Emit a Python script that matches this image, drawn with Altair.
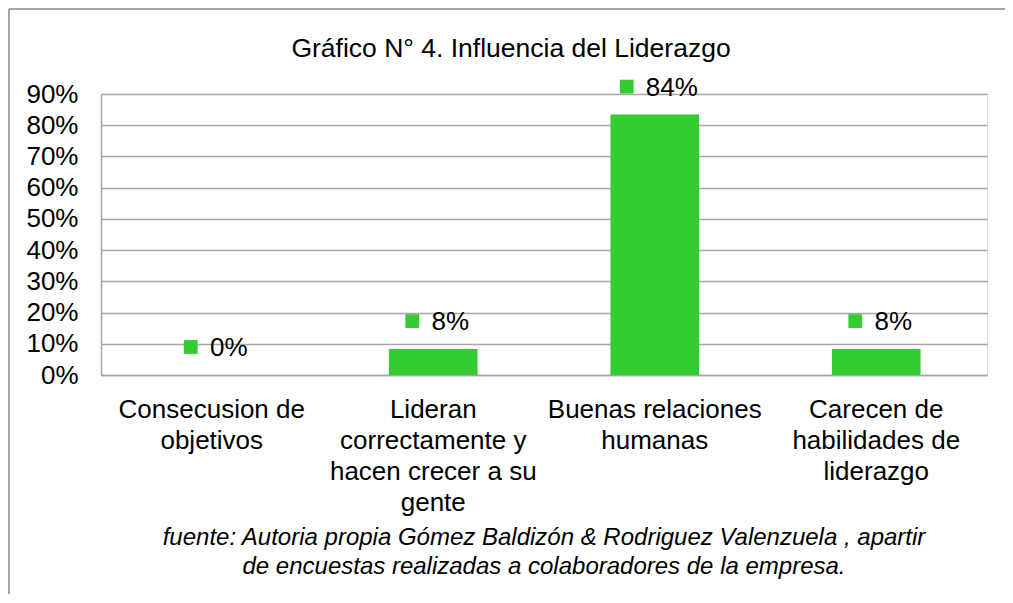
import altair as alt
import pandas as pd

# ---- data ----
categories = [
    "Consecusion de\nobjetivos",
    "Lideran\ncorrectamente y\nhacen crecer a su\ngente",
    "Buenas relaciones\nhumanas",
    "Carecen de\nhabilidades de\nliderazgo",
]
values = [0.0, 0.083, 0.834, 0.083]
value_labels = ["0%", "8%", "84%", "8%"]
y_ticks = [0.0, 0.1, 0.2, 0.3, 0.4, 0.5, 0.6, 0.7, 0.8, 0.9]
title_text = "Gráfico N° 4. Influencia del Liderazgo"
source_text = ("fuente: Autoria propia Gómez Baldizón & Rodriguez Valenzuela , apartir\n"
               "de encuestas realizadas a colaboradores de la empresa.")

df = pd.DataFrame({"cat": categories, "value": values, "label": value_labels})

FONT = "Liberation Sans"
GREEN = "#33CC33"
GRID = "#A6A6A6"

x = alt.X(
    "cat:N", sort=categories, title=None,
    scale=alt.Scale(paddingInner=0.6, paddingOuter=0.3),
    axis=alt.Axis(labelAngle=0, labelExpr="split(datum.label, '\\n')",
                  labelFont=FONT, labelFontSize=26, labelColor="black",
                  labelLineHeight=31, labelPadding=21, ticks=False, tickSize=0,
                  domainColor=GRID, domainWidth=1.5, labelLimit=0, grid=False,
                  labelBaseline="top"),
)
y = alt.Y(
    "value:Q", title=None,
    scale=alt.Scale(domain=[0, 0.9], nice=False),
    axis=alt.Axis(values=y_ticks, format=".0%", labelFont=FONT, labelFontSize=26,
                  labelColor="black", labelPadding=23, ticks=False, tickSize=0,
                  domainColor=GRID, domainWidth=1.5, gridColor=GRID, gridWidth=1.5),
)

base = alt.Chart(df)
bars = base.mark_bar(color=GREEN).encode(x=x, y=y)
sq2 = base.transform_filter("length(datum.label) == 2").mark_square(
    color=GREEN, size=190, opacity=1, xOffset=-21, yOffset=-28).encode(x=x, y=y)
sq3 = base.transform_filter("length(datum.label) == 3").mark_square(
    color=GREEN, size=190, opacity=1, xOffset=-28, yOffset=-28).encode(x=x, y=y)
labels = base.mark_text(align="center", baseline="middle", dx=17, dy=-27,
                        font=FONT, fontSize=26, color="black").encode(
    x=x, y=y, text="label:N")

title = alt.Chart(pd.DataFrame({"t": [title_text]})).mark_text(
    font=FONT, fontSize=26.5, align="center", baseline="alphabetic", color="black"
).encode(x=alt.value(410), y=alt.value(-37), text="t:N")

footer = alt.Chart(pd.DataFrame({"t": [source_text]})).transform_calculate(
    lines="split(datum.t, '\\n')"
).mark_text(font=FONT, fontSize=24, fontStyle="italic", align="center",
            baseline="alphabetic", lineHeight=29, color="black").encode(
    x=alt.value(443), y=alt.value(451), text="lines:N")

border_top = alt.Chart(pd.DataFrame({"a": [0]})).mark_rule(
    color=GRID, strokeWidth=2).encode(x=alt.value(-92), x2=alt.value(904), y=alt.value(-85))
border_left = alt.Chart(pd.DataFrame({"a": [0]})).mark_rule(
    color=GRID, strokeWidth=2).encode(x=alt.value(-92), y=alt.value(-85), y2=alt.value(501))

chart = alt.layer(border_top, border_left, bars, sq2, sq3, labels, title, footer).properties(
    width=886, height=281,
    autosize=alt.AutoSizeParams(type="none"),
    padding={"left": 93, "top": 86, "right": 18, "bottom": 219},
).configure_view(stroke=None).configure(background="white")

chart.save("out.html", embed_options={"renderer": "svg", "actions": False})
